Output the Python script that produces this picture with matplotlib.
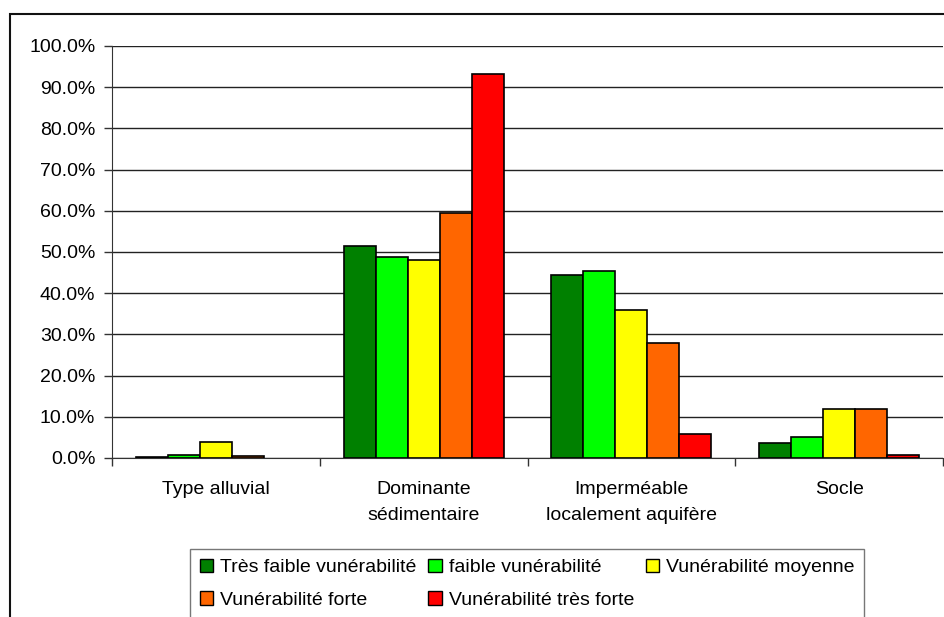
import matplotlib.pyplot as plt
import numpy as np
from matplotlib.patches import Rectangle
from matplotlib.ticker import FuncFormatter, MultipleLocator

plt.rcParams['font.family'] = ['Liberation Sans', 'DejaVu Sans']

categories = ["Type alluvial", "Dominante\nsédimentaire",
              "Imperméable\nlocalement aquifère", "Socle"]
series = ["Très faible vunérabilité", "faible vunérabilité",
          "Vunérabilité moyenne", "Vunérabilité forte",
          "Vunérabilité très forte"]
colors = ["#008000", "#00FF00", "#FFFF00", "#FF6600", "#FF0000"]

# share of each vulnerability class per aquifer type (%)
tres_faible = [0.3, 51.5, 44.3, 3.7]
faible = [0.7, 48.9, 45.5, 5.2]
moyenne = [4.0, 48.1, 35.9, 11.9]
forte = [0.6, 59.4, 27.8, 11.9]
tres_forte = [0.0, 93.3, 5.8, 0.65]
values = [tres_faible, faible, moyenne, forte, tres_forte]

FS = 14

fig = plt.figure(figsize=(9.44, 6.17), dpi=100)
ax = fig.add_axes([112 / 944, 1 - 458 / 617, 831 / 944, 412 / 617])

# outer chart frame, cut by the image edge on the right and bottom
fig.patches.append(Rectangle((9.5 / 944, -0.1), 1.2, 1 - 13.5 / 617 + 0.1,
                             transform=fig.transFigure, fill=False,
                             edgecolor="#111111", linewidth=1.5))

x = np.arange(len(categories))
w = 1 / 6.5
bars = []
for i, (name, col, vals) in enumerate(zip(series, colors, values)):
    b = ax.bar(x + (i - 2) * w, vals, width=w, color=col, edgecolor="black",
               linewidth=1.2, label=name, zorder=3)
    for p in b.patches:
        if p.get_height() == 0:
            p.set_linewidth(0)
    bars.append(b)

ax.set_xlim(-0.5, len(categories) - 0.5)
ax.set_ylim(0, 100)
ax.yaxis.set_major_locator(MultipleLocator(10))
ax.yaxis.set_major_formatter(FuncFormatter(lambda v, p: "%.1f%%" % v))
ax.grid(axis="y", color="#222222", linewidth=1, zorder=0)

ax.set_xticks(x)
ax.set_xticklabels(categories, fontsize=FS, linespacing=1.7)
ax.set_xticks(np.arange(-0.5, len(categories)), minor=True)
ax.tick_params(axis="x", which="major", length=0, pad=16.5)
ax.tick_params(axis="x", which="minor", length=6, width=1, color="#333333")
ax.tick_params(axis="y", length=6, width=1, color="#333333", labelsize=FS, pad=6)

for s in ("top", "right"):
    ax.spines[s].set_visible(False)
ax.spines["left"].set_color("#333333")
ax.spines["bottom"].set_color("#333333")

# row-wise legend order
order = [0, 3, 1, 4, 2]
leg = fig.legend([bars[i] for i in order], [series[i] for i in order],
                 loc="upper left", bbox_to_anchor=(190 / 944, 1 - 549 / 617),
                 borderaxespad=0, ncol=3, fontsize=FS, frameon=True,
                 fancybox=False, edgecolor="#555555", handlelength=0.7,
                 handleheight=0.7, handletextpad=0.35, columnspacing=0.6,
                 borderpad=0.5, labelspacing=0.75)
leg.get_frame().set_linewidth(1)
for h in leg.legend_handles:
    h.set_linewidth(1)

fig.savefig("out.png", dpi=100)
